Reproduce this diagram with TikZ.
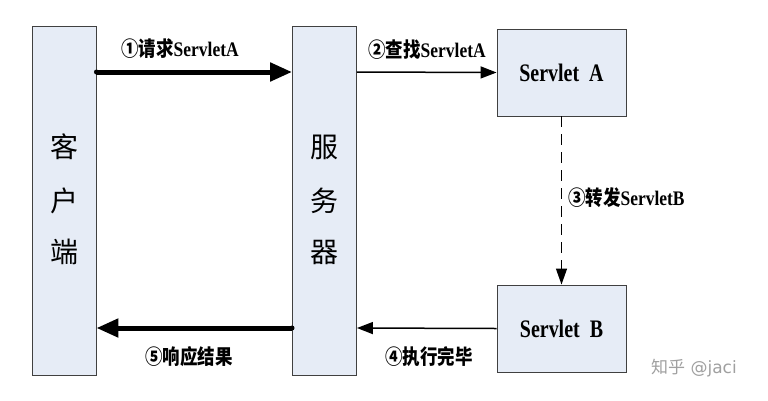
\documentclass[tikz,border=0pt]{standalone}
\usepackage{fontspec}
\usepackage{graphicx}
\setmainfont{Liberation Serif}
\newfontfamily\cjk{Noto Sans CJK SC}
\usetikzlibrary{arrows.meta}
\definecolor{boxfill}{HTML}{E6ECF6}
\definecolor{boxline}{HTML}{404040}
\definecolor{wmgray}{HTML}{A0A0A0}
\tikzset{
  tallbox/.style={draw=boxline, line width=0.9pt, fill=boxfill, minimum width=64pt, minimum height=349pt, inner sep=0pt},
  servbox/.style={draw=boxline, line width=0.9pt, fill=boxfill, minimum width=129pt, minimum height=87pt, inner sep=0pt, font=\fontsize{21}{24}\selectfont\bfseries},
  thickarrow/.style={line width=5pt, -{Triangle[length=22pt,width=18pt]}},
  thinarrow/.style={line width=1.5pt, -{Triangle[length=16pt,width=12pt]}},
  dasharrow/.style={line width=1.3pt, dash pattern=on 11pt off 7pt, -{Triangle[length=16pt,width=11pt]}},
  lbl/.style={font=\fontsize{18}{20}\selectfont\bfseries, inner sep=1pt},
  bigcjk/.style={font=\cjk\fontsize{28}{52}\selectfont, align=center}
}
\newcommand{\tallsv}[1]{\scalebox{0.95}[1.2]{#1}}
\newcommand{\talllb}[1]{\scalebox{0.97}[1.15]{#1}}
\begin{document}
\begin{tikzpicture}[x=1pt,y=-1pt]
\useasboundingbox (0,0) rectangle (768,400);
\fill[white] (0,0) rectangle (768,400);
\node[tallbox] (client) at (64,200.5) {};
\node[tallbox] (server) at (324.5,200.5) {};
\node[servbox] (sa) at (561.5,72.5) {\tallsv{Servlet\ \ A}};
\node[servbox] (sb) at (561.5,328.5) {\tallsv{Servlet\ \ B}};
\node[bigcjk] at (64,147) {客};
\node[bigcjk] at (64,201) {户};
\node[bigcjk] at (64,252) {端};
\node[bigcjk] at (324.5,147) {服};
\node[bigcjk] at (324.5,201) {务};
\node[bigcjk] at (324.5,252) {器};
\coordinate (c1) at (client.east |- 0,72);
\coordinate (s1) at (server.west |- 0,72);
\coordinate (s2) at (server.east |- 0,72);
\coordinate (s4) at (server.east |- 0,328);
\coordinate (s5) at (server.west |- 0,328);
\coordinate (c5) at (client.east |- 0,328);
\draw[thickarrow] (c1) -- (s1);
\fill (c1) circle (2.5pt);
\draw[thinarrow] (s2) -- (sa.west);
\draw[dasharrow] (sa.south) -- (sb.north);
\draw[thinarrow] (sb.west) -- (s4);
\draw[thickarrow] (s5) -- (c5);
\fill (s5) circle (2.5pt);
\node[lbl] (l1) at (180,49) {\talllb{{\cjk ①请求}ServletA}};
\node[lbl] (l2) at (427,50) {\talllb{{\cjk ②查找}ServletA}};
\node[lbl, anchor=west] (l3) at (567,198) {\talllb{{\cjk ③转发}ServletB}};
\node[lbl] (l4) at (429,357) {\talllb{\cjk ④执行完毕}};
\node[lbl] (l5) at (189,357) {\talllb{\cjk ⑤响应结果}};
\node[font=\fontsize{17}{20}\selectfont\sffamily, text=wmgray] (wm) at (694,368) {{\cjk 知乎} {\fontspec{DejaVu Sans}@jaci}};
\end{tikzpicture}
\end{document}
